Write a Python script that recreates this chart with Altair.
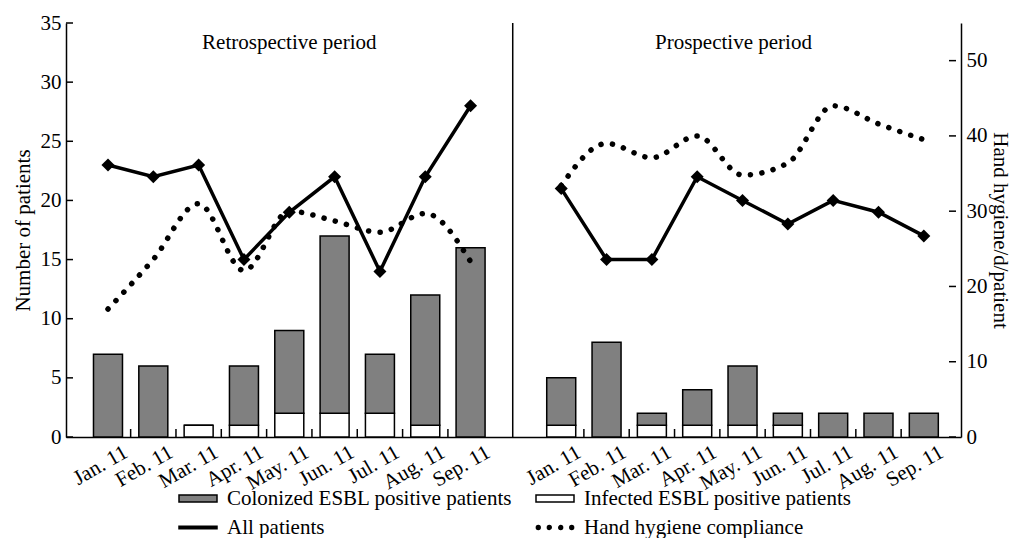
import altair as alt
import pandas as pd

# ---------------- data ----------------
months = ["Jan. 11", "Feb. 11", "Mar. 11", "Apr. 11", "May. 11",
          "Jun. 11", "Jul. 11", "Aug. 11", "Sep. 11"]
periods = ["Retrospective period", "Prospective period"]
period_offset = [0, 10]          # slot where each period's first month sits
period_title_x = [4.0, 13.8]
period_title_y = [33.3, 33.3]
divider_x = [8.93]
x_domain = [-0.816, 18.71]

retro_infected = [0, 0, 1, 1, 2, 2, 2, 1, 0]
retro_colonized = [7, 6, 0, 5, 7, 15, 5, 11, 16]
retro_all = [23, 22, 23, 15, 19, 22, 14, 22, 28]
retro_hygiene = [17.0, 23.6, 31.0, 22.1, 30.0, 28.7, 27.2, 29.7, 23.3]

pros_infected = [1, 0, 1, 1, 1, 1, 0, 0, 0]
pros_colonized = [4, 8, 1, 3, 5, 1, 2, 2, 2]
pros_all = [21, 15, 15, 22, 20, 18, 20, 19, 17]
pros_hygiene = [33.4, 39.0, 37.1, 40.0, 34.8, 36.4, 44.0, 41.6, 39.5]

legend_names = ["Colonized ESBL positive patients", "Infected ESBL positive patients",
                "All patients", "Hand hygiene compliance"]

left_ticks = [0, 5, 10, 15, 20, 25, 30, 35]
right_ticks = [0, 10, 20, 30, 40, 50]

# ---------------- tables ----------------
rows = []
for p, off, inf, col, al, hy in [
    (periods[0], period_offset[0], retro_infected, retro_colonized, retro_all, retro_hygiene),
    (periods[1], period_offset[1], pros_infected, pros_colonized, pros_all, pros_hygiene),
]:
    for i, m in enumerate(months):
        rows.append(dict(period=p, pos=off + i, month=m, infected=inf[i],
                         colonized=col[i], allp=al[i], hygiene=hy[i]))
df = pd.DataFrame(rows)

bounds = pd.DataFrame({"b": [off + i + 0.5 for off in period_offset for i in range(len(months) - 1)]})
titles_df = pd.DataFrame({"label": periods, "tx": period_title_x, "ty": period_title_y})
divider_df = pd.DataFrame({"d": divider_x})
legend_df = pd.DataFrame({"series": legend_names})
lt_df = pd.DataFrame({"t": left_ticks})
rt_df = pd.DataFrame({"t": right_ticks, "xr": [x_domain[1]] * len(right_ticks)})

FONT = "Liberation Serif"
FS = 21
TOTAL_W, H = 1002, 414

month_expr = "[" + ",".join("'%s'" % m for m in months) + "][datum.value % 10]"

xscale = alt.Scale(domain=x_domain, nice=False, zero=False)
x_axis = alt.Axis(values=list(df["pos"]), labelExpr=month_expr, ticks=False,
                  labelAngle=-30, labelAlign="right", labelBaseline="top",
                  labelOffset=12, labelPadding=4, labelFontSize=FS, title=None,
                  labelOverlap=False, labelBound=False,
                  domainColor="black", domainWidth=1.5, labelColor="black")
yL = alt.Scale(domain=[0, 35], nice=False)
yR = alt.Scale(domain=[0, 55], nice=False)
left_axis = alt.Axis(values=left_ticks, title="Number of patients", titleFontSize=FS,
                     titleFontWeight="normal", labelFontSize=FS, ticks=False,
                     labelPadding=5, titlePadding=7, minExtent=0, domainColor="black",
                     domainWidth=1.5, labelColor="black", titleColor="black")
right_axis = alt.Axis(values=right_ticks, orient="right", title="Hand hygiene/d/patient",
                      titleFontSize=FS, titleFontWeight="normal", labelFontSize=FS,
                      ticks=False, labelPadding=5, titlePadding=2, minExtent=0,
                      domainColor="black", domainWidth=1.5,
                      labelColor="black", titleColor="black")

X = lambda f: alt.X(f, scale=xscale, axis=x_axis)
YL = lambda f: alt.Y(f, scale=yL, axis=left_axis)
YR = lambda f: alt.Y(f, scale=yR, axis=right_axis)

base = alt.Chart(df)

bars_inf = base.mark_bar(size=29, fill="white", stroke="black", strokeWidth=1.5).encode(
    x=X("pos:Q"), y=YL("infected:Q"),
)
bars_col = base.transform_calculate(top="datum.infected + datum.colonized").mark_bar(
    size=29, fill="#808080", stroke="black", strokeWidth=1.5).encode(
    x=X("pos:Q"), y=YL("top:Q"), y2="infected:Q",
)
tick_rules = alt.Chart(bounds).mark_rule(color="black", strokeWidth=1.5).encode(
    x=X("b:Q"), y=alt.value(H), y2=alt.value(H - 8),
)
left_tick_rules = alt.Chart(lt_df).mark_rule(color="black", strokeWidth=1.5).encode(
    y=YL("t:Q"), x=alt.value(0), x2=alt.value(7),
)
divider = alt.Chart(divider_df).mark_rule(color="black", strokeWidth=1.5).encode(
    x=X("d:Q"),
)
line_all = base.mark_line(color="black", strokeWidth=3.5).encode(
    x=X("pos:Q"), y=YL("allp:Q"), detail="period:N",
)
points = base.mark_point(shape="diamond", filled=True, size=170, color="black", opacity=1).encode(
    x=X("pos:Q"), y=YL("allp:Q"),
)
texts = alt.Chart(titles_df).mark_text(fontSize=FS, color="black").encode(
    x=X("tx:Q"), y=YL("ty:Q"), text="label:N",
)

rect_path = "M-1,-0.18L1,-0.18L1,0.18L-1,0.18Z"
line_path = "M-1,-0.07L1,-0.07L1,0.07L-1,0.07Z"
dots_path = " ".join(
    "M%.2f 0A0.1 0.1 0 1 0 %.2f 0A0.1 0.1 0 1 0 %.2f 0Z" % (c - 0.1, c + 0.1, c - 0.1)
    for c in [-0.88, -0.3, 0.3, 0.88]
)
leg = dict(title=None, orient="none", legendX=112, legendY=465, direction="horizontal",
           columns=2, columnPadding=22, rowPadding=7, symbolSize=1444, clipHeight=21,
           symbolStrokeColor="black", symbolStrokeWidth=1.5, symbolOpacity=1,
           labelFontSize=FS, labelColor="black", labelOffset=9, labelLimit=500)
legend_layer = alt.Chart(legend_df).mark_point(filled=True, opacity=0, stroke="black",
                                               strokeWidth=1.5).encode(
    fill=alt.Fill("series:N", scale=alt.Scale(domain=legend_names,
                                              range=["#808080", "white", "black", "black"]),
                  legend=alt.Legend(**leg)),
    stroke=alt.Stroke("series:N", scale=alt.Scale(domain=legend_names,
                                                  range=["black", "black", "black", "black"]),
                      legend=alt.Legend(**leg)),
    shape=alt.Shape("series:N", scale=alt.Scale(domain=legend_names,
                                                range=[rect_path, rect_path, line_path, dots_path]),
                    legend=alt.Legend(**leg)),
)

hygiene = base.mark_line(color="black", strokeWidth=5.5, strokeDash=[0.1, 11.5],
                         strokeCap="round", interpolate="monotone").encode(
    x=X("pos:Q"), y=YR("hygiene:Q"), detail="period:N",
)
right_tick_rules = alt.Chart(rt_df).mark_rule(color="black", strokeWidth=1.5, x2Offset=-7).encode(
    y=YR("t:Q"), x=X("xr:Q"), x2="xr:Q",
)

left_group = alt.layer(bars_inf, bars_col, tick_rules, left_tick_rules, divider,
                       line_all, points, texts, legend_layer)
right_group = alt.layer(hygiene, right_tick_rules)

chart = alt.layer(left_group, right_group).resolve_scale(y="independent").properties(
    width=TOTAL_W, height=H,
    autosize=alt.AutoSizeParams(type="fit-x", contains="padding"),
    padding={"left": 4, "top": 4, "right": 0, "bottom": 50},
).configure(font=FONT).configure_view(stroke=None).configure_axis(grid=False)

chart.save("out.html", embed_options={"renderer": "svg", "actions": False})
